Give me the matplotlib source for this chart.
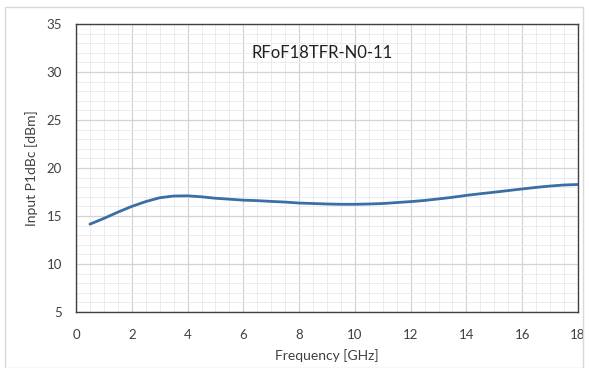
import matplotlib.pyplot as plt
from matplotlib.ticker import MultipleLocator

# frequency points [GHz] and input P1dB values [dBm]
freq = [0.5, 1.0, 1.5, 2.0, 2.5, 3.0, 3.5, 4.0, 4.5, 5.0, 5.5, 6.0, 6.5, 7.0,
        7.5, 8.0, 8.5, 9.0, 9.5, 10.0, 10.5, 11.0, 11.5, 12.0, 12.5, 13.0,
        13.5, 14.0, 14.5, 15.0, 15.5, 16.0, 16.5, 17.0, 17.5, 18.0]
p1db = [14.15, 14.75, 15.4, 16.0, 16.5, 16.9, 17.08, 17.1, 17.0, 16.85, 16.75, 16.65, 16.6, 16.52,
        16.45, 16.35, 16.3, 16.25, 16.22, 16.22, 16.25, 16.3, 16.4, 16.5, 16.62, 16.78,
        16.95, 17.15, 17.32, 17.48, 17.65, 17.82, 17.98, 18.12, 18.23, 18.28]

title = "RFoF18TFR-N0-11"
x_label = "Frequency [GHz]"
y_label = "Input P1dBc [dBm]"

plt.rcParams['font.family'] = ['Lato', 'DejaVu Sans']

fig = plt.figure(figsize=(5.89, 3.68), dpi=100)
# light frame round the whole chart area
fig.patches.append(plt.Rectangle((5 / 589, 0), 578 / 589, 361 / 368, transform=fig.transFigure,
                                 fill=False, edgecolor='#d9d9d9', linewidth=1.0))

ax = fig.add_axes([76 / 589, 1 - 312 / 368, (578 - 76) / 589, (312 - 24) / 368])
ax.plot(freq, p1db, color='#3b6ea5', linewidth=2.0, solid_capstyle='round')

ax.set_xlim(0, 18)
ax.set_ylim(5, 35)
ax.xaxis.set_major_locator(MultipleLocator(2))
ax.xaxis.set_minor_locator(MultipleLocator(0.5))
ax.yaxis.set_major_locator(MultipleLocator(5))
ax.yaxis.set_minor_locator(MultipleLocator(1))

ax.grid(which='major', color='#d4d4d4', linewidth=0.9)
ax.grid(which='minor', color='#ececec', linewidth=0.7)
ax.set_axisbelow(True)
ax.tick_params(which='both', length=0, labelsize=9.5, labelcolor='#404040')
ax.tick_params(axis='x', pad=12)
ax.tick_params(axis='y', pad=10)

for s in ax.spines.values():
    s.set_color('#404040')
    s.set_linewidth(1.0)

ax.set_xlabel(x_label, fontsize=10, color='#404040', labelpad=6)
ax.set_ylabel(y_label, fontsize=10, color='#404040', labelpad=6)
ax.text(0.49, 0.9, title, transform=ax.transAxes, ha='center', va='center',
        fontsize=12, color='#202020')

fig.savefig("out.png", dpi=100)
